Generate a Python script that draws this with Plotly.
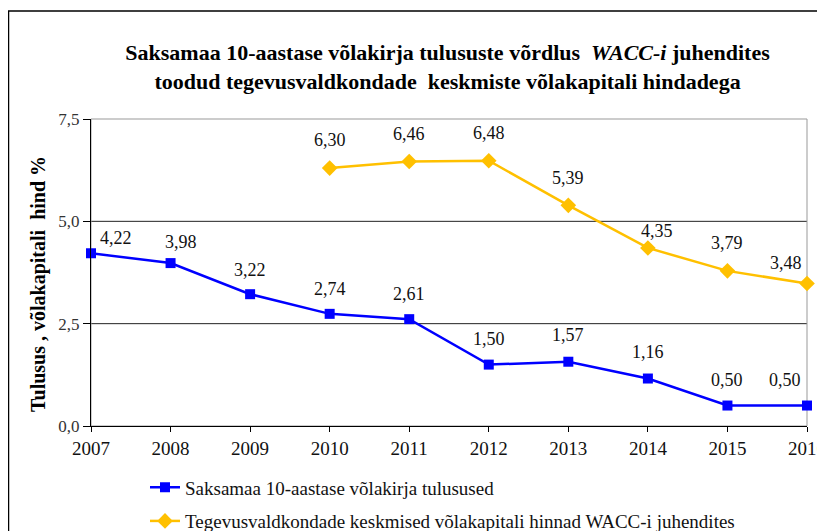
import plotly.graph_objects as go

years = [2007, 2008, 2009, 2010, 2011, 2012, 2013, 2014, 2015, 2016]
bond_yields = [4.22, 3.98, 3.22, 2.74, 2.61, 1.50, 1.57, 1.16, 0.50, 0.50]
wacc_years = [2010, 2011, 2012, 2013, 2014, 2015, 2016]
wacc_rates = [6.30, 6.46, 6.48, 5.39, 4.35, 3.79, 3.48]
y_ticks = [0.0, 2.5, 5.0, 7.5]
y_ticktext = ["0,0", "2,5", "5,0", "7,5"]

name1 = "Saksamaa 10-aastase võlakirja tulusused"
name2 = "Tegevusvaldkondade keskmised võlakapitali hinnad WACC-i juhendites"
title = ("<b>Saksamaa 10-aastase võlakirja tulususte võrdlus  <i>WACC-i</i> juhendites</b><br>"
         "<b>toodud tegevusvaldkondade  keskmiste võlakapitali hindadega</b>")
ytitle = "<b>Tulusus , võlakapitali  hind %</b>"

# label offsets (pixels) for the data labels, style only
bond_label_shift = [(25, 15), (10, 21), (0, 24), (0, 25), (0, 25),
                    (0, 26), (0, 27), (0, 27), (0, 26), (-22, 26)]
wacc_label_shift = [(0, 28), (0, 28), (0, 28), (0, 27), (9, 17), (0, 28), (-21, 21)]

FONT = "Liberation Serif"
BLUE = "#0000FF"
GOLD = "#FFC000"

# page body has an 8px margin; plot area in figure pixels
FW, FH = 817, 523
L, T, R, B = 83, 111, 18, 105
PW = FW - L - R
PH = FH - T - B


def fmt(v):
    return f"{v:.2f}".replace(".", ",")


fig = go.Figure()
fig.add_trace(go.Scatter(
    x=years, y=bond_yields, mode="lines+markers", name=name1,
    line=dict(color=BLUE, width=2.5),
    marker=dict(symbol="square", size=10, color=BLUE),
    cliponaxis=False, legendgroup="a",
))
fig.add_trace(go.Scatter(
    x=wacc_years, y=wacc_rates, mode="lines+markers", name=name2,
    line=dict(color=GOLD, width=2.5),
    marker=dict(symbol="diamond", size=12, color=GOLD),
    cliponaxis=False, legendgroup="b",
))

for xs, ys, shifts in [(years, bond_yields, bond_label_shift),
                       (wacc_years, wacc_rates, wacc_label_shift)]:
    for x, y, (dx, dy) in zip(xs, ys, shifts):
        fig.add_annotation(x=x, y=y, text=fmt(y), showarrow=False,
                           xanchor="center", yanchor="middle",
                           xshift=dx, yshift=dy,
                           font=dict(family=FONT, size=18, color="#111111"))

# gridlines and plot border
for g in [2.5, 5.0]:
    fig.add_shape(type="line", xref="paper", yref="y", x0=0, x1=1, y0=g, y1=g,
                  line=dict(color="#222222", width=1), layer="below")
fig.add_shape(type="rect", xref="paper", yref="paper", x0=0, x1=1, y0=0, y1=1,
              line=dict(color="#999999", width=1), layer="below")
# outer chart border
fig.add_shape(type="rect", xref="paper", yref="paper",
              x0=(0.5 - L) / PW, x1=(FW + 20 - L) / PW,
              y0=(PH + T - FH - 30) / PH, y1=(PH + T - 3) / PH,
              line=dict(color="#000000", width=1.5))

# y-axis title as rotated text
fig.add_annotation(xref="paper", yref="paper",
                   x=(30 - L) / PW, y=(PH + T - 276) / PH,
                   text=ytitle, textangle=-90, showarrow=False,
                   xanchor="center", yanchor="middle",
                   font=dict(family=FONT, size=20, color="#000000"))

fig.update_layout(
    width=FW, height=FH,
    margin=dict(l=L, r=R, t=T, b=B, autoexpand=False),
    paper_bgcolor="white", plot_bgcolor="white",
    font=dict(family=FONT, size=18, color="#000000"),
    title=dict(text=title, x=0.538, xanchor="center", y=0.9, yanchor="middle",
               font=dict(family=FONT, size=22, color="#000000")),
    showlegend=True,
    legend=dict(x=(137 - L) / PW, y=-0.138, xanchor="left", yanchor="top",
                orientation="v", tracegroupgap=6, itemwidth=30,
                font=dict(family=FONT, size=19, color="#111111"),
                bgcolor="rgba(0,0,0,0)"),
    xaxis=dict(range=[2007, 2016], tickmode="array", tickvals=years,
               ticktext=[str(y) for y in years], automargin=False,
               ticklabeloverflow="allow",
               showgrid=False, zeroline=False, showline=True, linecolor="#000000",
               linewidth=1, ticks="outside", ticklen=5, tickcolor="#000000",
               tickfont=dict(family=FONT, size=19, color="#111111")),
    yaxis=dict(range=[0, 7.5], tickmode="array", tickvals=y_ticks, ticktext=y_ticktext,
               automargin=False,
               showgrid=False, zeroline=False, showline=True, linecolor="#000000",
               linewidth=1, ticks="outside", ticklen=7, tickcolor="#000000",
               tickfont=dict(family=FONT, size=17, color="#333333")),
)

fig.write_html("out.html")
